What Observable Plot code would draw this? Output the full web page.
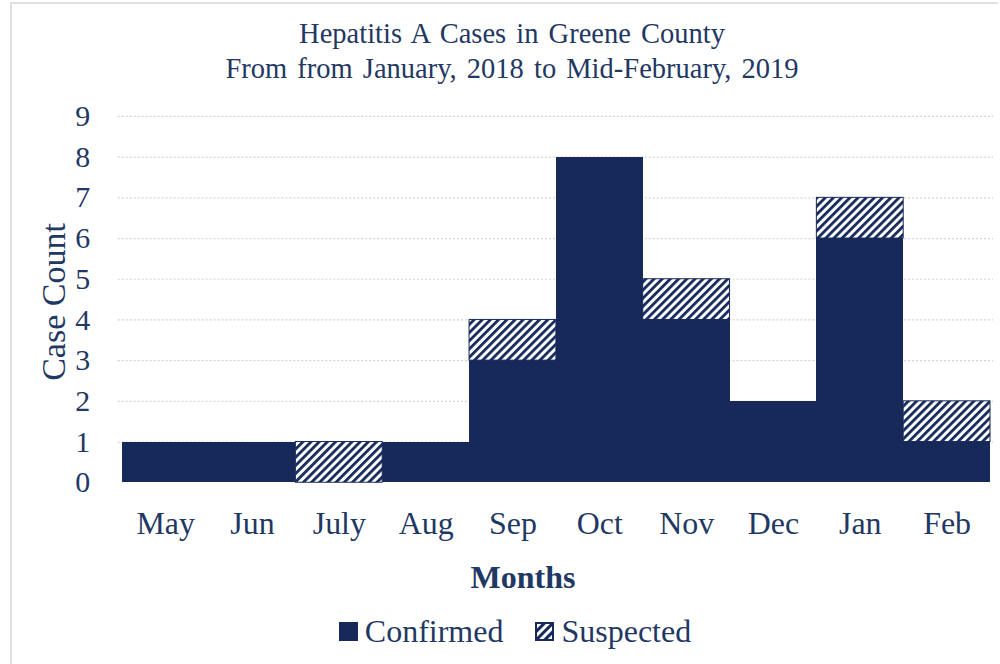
<!DOCTYPE html>
<html>
<head>
<meta charset="utf-8">
<script src="https://cdn.jsdelivr.net/npm/d3@7"></script>
<script src="https://cdn.jsdelivr.net/npm/@observablehq/plot@0.6"></script>
<style>
  html, body { margin: 0; padding: 0; background: #fff; }
  #frame {
    position: relative; width: 988px; height: 662px; margin-left: 10px; margin-top: 2px;
    border-left: 2px solid #e0e0e0; border-top: 2px solid #e0e0e0; box-sizing: border-box;
    font-family: "Liberation Serif", "Times New Roman", serif; color: #1f3864;
  }
  #title { position: absolute; left: -12px; top: 12px; width: 1024px; text-align: center; font-size: 28.5px; line-height: 35px; word-spacing: 3px; }
  #chart { position: absolute; left: -12px; top: 92px; }
  #ylabel { position: absolute; left: -12px; top: -4px; width: 0; height: 0; }
  #ylabel span { position: absolute; left: 54px; top: 302px; transform: translate(-50%, -50%) rotate(-90deg); white-space: nowrap; font-size: 34px; }
  #xlabel { position: absolute; left: -12px; top: 553px; width: 1046px; text-align: center; font-size: 32px; font-weight: bold; line-height: 40px; }
  #legend { position: absolute; left: -12px; top: 607px; width: 1030px; display: flex; justify-content: center; align-items: center; font-size: 32px; line-height: 40px; }
  .item { display: flex; align-items: center; margin: 0 16px; }
</style>
</head>
<body>
<div id="frame">
  <div id="title">Hepatitis A Cases in Greene County<br>From from January, 2018 to Mid-February, 2019</div>
  <div id="chart"></div>
  <div id="ylabel"><span>Case Count</span></div>
  <div id="xlabel">Months</div>
  <div id="legend"></div>
</div>
<script>
const months = ["May", "Jun", "July", "Aug", "Sep", "Oct", "Nov", "Dec", "Jan", "Feb"];
const confirmed = [1, 1, 0, 1, 3, 8, 4, 2, 6, 1];
const suspected = [0, 0, 1, 0, 1, 0, 1, 0, 1, 1];
const yTicks = [0, 1, 2, 3, 4, 5, 6, 7, 8, 9];
const seriesNames = ["Confirmed", "Suspected"];

const navy = "#16295a";
const textColor = "#1f3864";

const rows = months.map((m, i) => ({
  month: m,
  confirmed: confirmed[i],
  suspected: suspected[i],
  total: confirmed[i] + suspected[i]
}));

const plot = Plot.plot({
  width: 1000,
  height: 445,
  marginLeft: 118,
  marginRight: 5,
  marginTop: 20,
  marginBottom: 58,
  style: { fontFamily: "'Liberation Serif', 'Times New Roman', serif", fontSize: "30px", color: textColor, background: "transparent", overflow: "visible" },
  x: { domain: months, padding: 0 },
  y: { domain: [0, 9] },
  marks: [
    Plot.ruleY(yTicks.filter(d => d > 0), { stroke: "#d4d4d4", strokeWidth: 1.2, strokeDasharray: "2,2" }),
    Plot.barY(rows.filter(d => d.confirmed > 0), { x: "month", y1: 0, y2: "confirmed", fill: navy, shapeRendering: "crispEdges" }),
    Plot.barY(rows.filter(d => d.suspected > 0), { x: "month", y1: "confirmed", y2: "total", fill: "url(#hatch)", stroke: navy, strokeWidth: 1 }),
    Plot.axisX({ tickSize: 0, tickPadding: 29, label: null, fontSize: 32 }),
    Plot.axisY({ ticks: yTicks, tickSize: 0, tickPadding: 28, label: null, fontSize: 30 })
  ]
});

const ns = "http://www.w3.org/2000/svg";
const defs = document.createElementNS(ns, "defs");
defs.innerHTML = `<pattern id="hatch" patternUnits="userSpaceOnUse" width="5.8" height="5.8" patternTransform="rotate(45)">
  <rect width="5.8" height="5.8" fill="#fff"/>
  <line x1="1.4" y1="0" x2="1.4" y2="5.8" stroke="${navy}" stroke-width="2.8"/>
</pattern>`;
plot.insertBefore(defs, plot.firstChild);
document.getElementById("chart").appendChild(plot);

const legend = document.getElementById("legend");
seriesNames.forEach((name, i) => {
  const item = document.createElement("div");
  item.className = "item";
  const sw = document.createElementNS(ns, "svg");
  sw.setAttribute("width", 19); sw.setAttribute("height", 19);
  sw.style.marginRight = "7px";
  if (i === 0) {
    sw.innerHTML = `<rect width="19" height="19" fill="${navy}"/>`;
  } else {
    sw.innerHTML = `<defs><pattern id="hatch2" patternUnits="userSpaceOnUse" width="6" height="6" patternTransform="rotate(45)"><rect width="6" height="6" fill="#fff"/><line x1="1.5" y1="0" x2="1.5" y2="6" stroke="${navy}" stroke-width="3"/></pattern></defs><rect x="1" y="1" width="17" height="17" fill="url(#hatch2)" stroke="${navy}" stroke-width="2"/>`;
  }
  item.appendChild(sw);
  const t = document.createElement("span");
  t.textContent = name;
  item.appendChild(t);
  legend.appendChild(item);
});
</script>
</body>
</html>
